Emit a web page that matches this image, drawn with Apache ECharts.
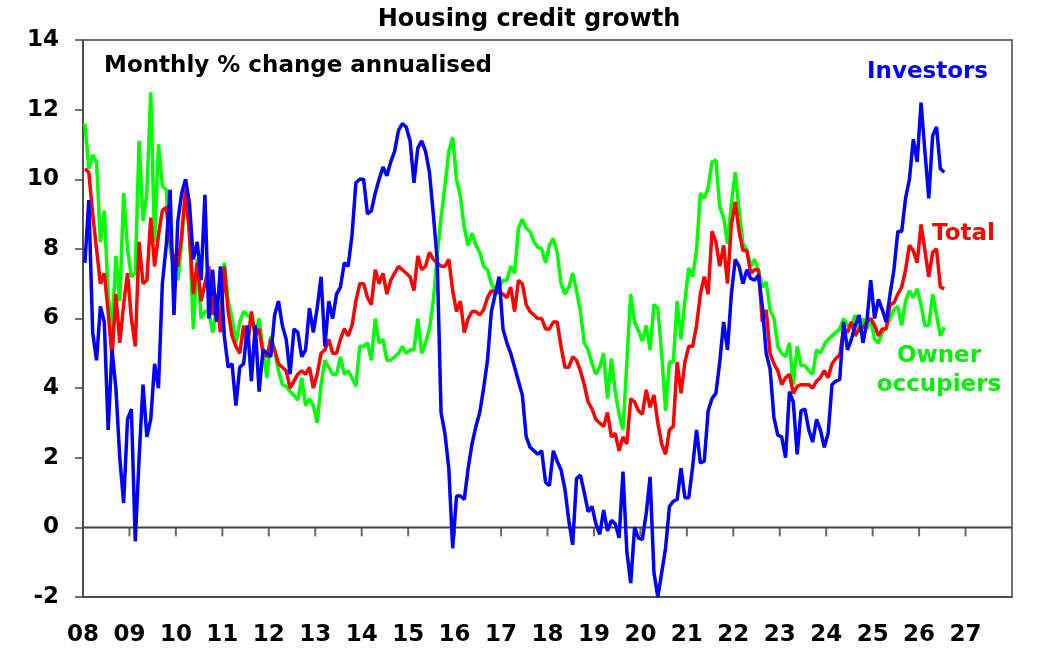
<!DOCTYPE html>
<html>
<head>
<meta charset="utf-8">
<script src="https://cdn.jsdelivr.net/npm/echarts@6/dist/echarts.min.js"></script>
<style>
  html, body { margin: 0; padding: 0; background: #fff; }
  #chart { width: 1058px; height: 655px; }
</style>
</head>
<body>
<div id="chart"></div>
<script>
// monthly % change annualised, starting Jan 2008
const startYear = 2008;
const endYear = 2028;
const yearLabels = ['08', '09', '10', '11', '12', '13', '14', '15', '16', '17',
  '18', '19', '20', '21', '22', '23', '24', '25', '26', '27'];

const investors = [
  7.6, 9.4, 5.6, 4.8, 6.35, 5.9, 2.8, 5.1, 4.0, 2.0, 0.7, 3.1,
  3.4, -0.4, 2.0, 4.1, 2.6, 3.1, 4.7, 4.0, 7.0, 8.1, 9.7, 6.1,
  8.8, 9.6, 10.0, 9.3, 7.7, 8.2, 7.1, 9.55, 6.0, 7.4, 5.9, 7.5,
  5.5, 4.6, 4.7, 3.5, 4.6, 4.7, 5.8, 4.2, 5.8, 3.9, 5.1, 5.0,
  4.9, 6.1, 6.5, 5.8, 5.4, 4.4, 5.7, 5.6, 4.9, 5.1, 6.3, 5.6,
  6.3, 7.2, 5.2, 6.5, 6.0, 6.7, 6.9, 7.6, 7.5, 8.4, 9.9, 10.0,
  10.0, 9.0, 9.1, 9.6, 10.0, 10.35, 10.1, 10.5, 10.8, 11.4, 11.6, 11.5,
  11.1, 9.9, 10.9, 11.1, 10.8, 10.2, 9.0, 7.7, 3.3, 2.7, 1.7, -0.6,
  0.9, 0.9, 0.8, 1.7, 2.4, 2.9, 3.3, 4.0, 4.8, 6.2, 6.7, 7.2,
  5.7, 5.3, 5.0, 4.6, 4.2, 3.8, 2.6, 2.3, 2.2, 2.1, 2.2, 1.3,
  1.2, 2.2, 1.9, 1.65, 1.1, 0.2, -0.5, 1.4, 1.5, 1.0, 0.45, 0.6,
  0.1, -0.2, 0.5, -0.1, 0.2, 0.1, -0.3, 1.6, -0.7, -1.6, 0.0, -0.3,
  -0.35, 0.4, 1.45, -1.3, -2.0, -1.3, -0.6, 0.6, 0.75, 0.8, 1.7, 0.85,
  0.85, 1.75, 2.8, 1.85, 1.9, 3.35, 3.7, 3.85, 4.75, 5.9, 5.1, 6.7,
  7.7, 7.5, 7.0, 7.4, 7.15, 7.1, 7.25, 6.35, 5.0, 4.55, 3.15, 2.65,
  2.6, 2.0, 3.9, 3.6, 2.1, 3.35, 3.4, 2.8, 2.45, 3.1, 2.8, 2.3,
  2.7, 4.1, 4.2, 4.25, 5.9, 5.1, 5.4, 5.8, 6.1, 5.3, 5.9, 7.1,
  6.0, 6.55, 6.25, 5.9, 6.7, 7.4, 8.5, 8.5, 9.45, 10.0, 11.15, 10.5,
  12.2, 10.8, 9.45, 11.25, 11.5, 10.3, 10.2
];

const total = [
  10.3, 10.2, 9.0, 8.0, 7.0, 7.3, 6.2, 4.9, 6.7, 5.3, 6.4, 7.3,
  6.0, 5.2, 8.2, 7.0, 7.1, 8.9, 7.5, 8.4, 9.1, 9.2, 8.2, 7.7,
  7.5, 8.4, 9.7, 8.4, 6.7, 7.6, 6.5, 7.0, 7.5, 6.1, 6.7, 5.6,
  7.5, 6.2, 5.5, 5.2, 5.0, 5.8, 5.2, 6.2, 5.5, 5.7, 5.0, 4.9,
  5.4, 5.1, 4.7, 4.6, 4.5, 4.0, 4.2, 4.4, 4.5, 4.4, 4.6, 4.0,
  4.4, 5.0, 5.1, 5.4, 5.0, 5.0, 5.4, 5.7, 5.5, 5.8, 6.5, 7.0,
  7.0, 6.6, 6.4, 7.4, 7.0, 7.3, 6.7, 7.1, 7.3, 7.5, 7.4, 7.3,
  7.2, 6.8, 7.8, 7.4, 7.5, 7.9, 7.7, 7.6, 7.5, 7.5, 7.7, 6.8,
  6.2, 6.5, 5.6, 6.0, 6.2, 6.2, 6.1, 6.25, 6.6, 6.8, 6.75, 6.75,
  6.7, 6.6, 6.9, 6.2, 7.1, 7.0, 6.4, 6.2, 6.1, 6.0, 6.0, 5.7,
  5.7, 5.9, 5.9, 5.2, 4.6, 4.6, 4.9, 4.8, 4.5, 4.1, 3.6, 3.4,
  3.1, 3.0, 2.9, 3.3, 2.6, 2.7, 2.2, 2.6, 2.4, 3.7, 3.6, 3.35,
  3.25, 3.95, 3.45, 3.8, 3.0, 2.4, 2.1, 2.8, 2.9, 4.75, 3.85, 4.75,
  5.2, 5.2, 5.8, 6.7, 7.2, 6.7, 8.5, 8.2, 7.5, 8.1, 7.0, 8.7,
  9.35, 8.5, 7.95, 7.95, 7.3, 7.4, 7.4, 5.9, 6.25, 5.0, 4.7, 4.5,
  4.1, 4.3, 4.4, 3.85, 4.05, 4.1, 4.1, 4.1, 4.0, 4.2, 4.3, 4.5,
  4.3, 4.7, 4.85, 4.95, 5.7, 5.6, 5.9, 5.5, 5.7, 5.75, 5.9, 6.0,
  5.8, 5.5, 5.7, 5.7, 6.4, 6.45, 6.7, 6.9, 7.4, 8.1, 7.95, 7.6,
  8.7, 7.95, 7.2, 7.9, 8.0, 6.9, 6.85
];

const ownerOccupiers = [
  11.6, 10.3, 10.7, 10.5, 8.2, 9.1, 6.7, 5.6, 7.8, 6.5, 9.6, 8.0,
  7.2, 7.3, 11.1, 8.8, 9.6, 12.5, 8.2, 11.0, 9.8, 9.7, 8.0, 7.4,
  7.1, 8.2, 9.7, 8.5, 5.7, 7.7, 6.0, 6.2, 6.2, 5.6, 6.3, 5.8,
  7.6, 6.5, 6.0, 5.3, 5.9, 6.2, 6.1, 6.0, 5.6, 6.0, 5.1, 4.3,
  5.5, 5.1, 4.5, 4.1, 4.05, 3.9, 3.8, 3.65, 4.3, 3.5, 3.7, 3.5,
  3.0, 4.1, 4.8, 4.6, 4.4, 4.4, 4.9, 4.4, 4.5, 4.3, 4.05, 5.2,
  5.2, 5.3, 4.8, 6.0, 5.3, 5.4, 4.8, 4.8, 4.9, 5.0, 5.2, 5.0,
  5.1, 5.1, 6.0, 5.0, 5.3, 5.7, 6.5, 7.8, 8.9, 9.8, 10.8, 11.2,
  10.0, 9.5, 8.6, 8.1, 8.45, 8.1, 7.9, 7.5, 7.4, 7.0, 6.8, 6.9,
  7.1, 7.1, 7.5, 7.3, 8.6, 8.85, 8.6, 8.5, 8.2, 8.05, 8.0, 7.6,
  8.1, 8.3, 7.9, 7.0, 6.7, 6.9, 7.3, 6.8, 6.2, 5.3, 5.1, 4.7,
  4.4, 4.6, 5.0, 3.7, 4.85, 3.9, 3.25, 2.8, 4.75, 6.7, 5.9, 5.65,
  5.35, 5.8, 5.1, 6.4, 6.3, 5.0, 3.35, 4.75, 4.75, 6.5, 5.4, 6.5,
  7.45, 7.2, 7.95, 9.6, 9.45, 9.75, 10.5, 10.55, 9.2, 8.9, 8.15, 9.3,
  10.2, 9.1, 8.15, 7.95, 7.5, 7.7, 7.4, 6.9, 7.05, 6.25, 6.0, 5.2,
  5.0, 4.9, 5.3, 4.1, 5.2, 4.65, 4.65, 4.5, 4.4, 5.1, 5.0, 5.25,
  5.4, 5.5, 5.6, 5.7, 6.0, 5.8, 5.8, 6.1, 5.6, 6.0, 5.7, 6.0,
  5.4, 5.3, 5.6, 5.75, 6.0, 6.25, 6.35, 5.8, 6.5, 6.8, 6.6, 6.85,
  6.4, 5.8, 5.8, 6.7, 6.1, 5.5, 5.75
];

const chartDom = document.getElementById('chart');
const myChart = echarts.init(chartDom);

const font = 'DejaVu Sans';
const axisColor = '#444';

// put each monthly value in the middle of its month
const toPoints = (arr) => arr.map((v, i) => [startYear + (i + 0.5) / 12, v]);

const lineSeries = (name, data, color) => ({
  name: name,
  type: 'line',
  data: toPoints(data),
  showSymbol: false,
  z: 3,
  lineStyle: { color: color, width: 3.5 },
  itemStyle: { color: color }
});

const option = {
  animation: false,
  backgroundColor: '#fff',
  grid: {
    left: 83, right: 46, top: 40, bottom: 58,
    show: true,
    borderColor: axisColor,
    borderWidth: 1.5
  },
  xAxis: {
    type: 'value',
    min: startYear, max: endYear, interval: 1,
    position: 'bottom',
    axisLine: { show: true, onZero: false, lineStyle: { color: axisColor, width: 1.5 } },
    axisTick: { show: false },
    splitLine: { show: false },
    axisLabel: {
      margin: 27,
      color: '#000',
      fontFamily: font,
      fontWeight: 'bold',
      fontSize: 23,
      showMaxLabel: false,
      formatter: (v) => yearLabels[Math.round(v - startYear)] || ''
    }
  },
  yAxis: {
    type: 'value',
    min: -2, max: 14, interval: 2,
    axisLine: { show: true, lineStyle: { color: axisColor, width: 1.5 } },
    axisTick: { show: true, length: 8, lineStyle: { color: axisColor, width: 1.5 } },
    splitLine: { show: false },
    axisLabel: {
      margin: 24,
      color: '#000',
      fontFamily: font,
      fontWeight: 'bold',
      fontSize: 23
    }
  },
  series: [
    {
      // zero line across the plot
      name: 'zero',
      type: 'line',
      data: [[startYear, 0], [endYear, 0]],
      showSymbol: false,
      silent: true,
      z: 2,
      lineStyle: { color: axisColor, width: 2 }
    },
    {
      // year ticks hanging below the zero line
      name: 'ticks',
      type: 'scatter',
      data: yearLabels.slice(1).map((lbl, i) => [startYear + i + 1, 0]),
      symbol: 'rect',
      symbolSize: [2, 9],
      symbolOffset: [0, 4.5],
      silent: true,
      z: 2,
      itemStyle: { color: axisColor }
    },
    lineSeries('Owner occupiers', ownerOccupiers, '#00ff00'),
    lineSeries('Total', total, '#ff0000'),
    lineSeries('Investors', investors, '#0000ff')
  ],
  graphic: [
    {
      type: 'text', left: 'center', top: 8,
      style: { text: 'Housing credit growth', fill: '#000', font: 'bold 24px "DejaVu Sans"' }
    },
    {
      type: 'text', left: 104, top: 55,
      style: { text: 'Monthly % change annualised', fill: '#000', font: 'bold 23px "DejaVu Sans"' }
    },
    {
      type: 'text', left: 867, top: 61,
      style: { text: 'Investors', fill: '#0000ff', font: 'bold 23px "DejaVu Sans"' }
    },
    {
      type: 'text', left: 932, top: 223,
      style: { text: 'Total', fill: '#ff0000', font: 'bold 23px "DejaVu Sans"' }
    },
    {
      type: 'text', x: 939, y: 342,
      style: {
        text: 'Owner\noccupiers', fill: '#00ee00', align: 'center', verticalAlign: 'top',
        font: 'bold 23px "DejaVu Sans"', lineHeight: 29
      }
    }
  ]
};

myChart.setOption(option);
</script>
</body>
</html>
